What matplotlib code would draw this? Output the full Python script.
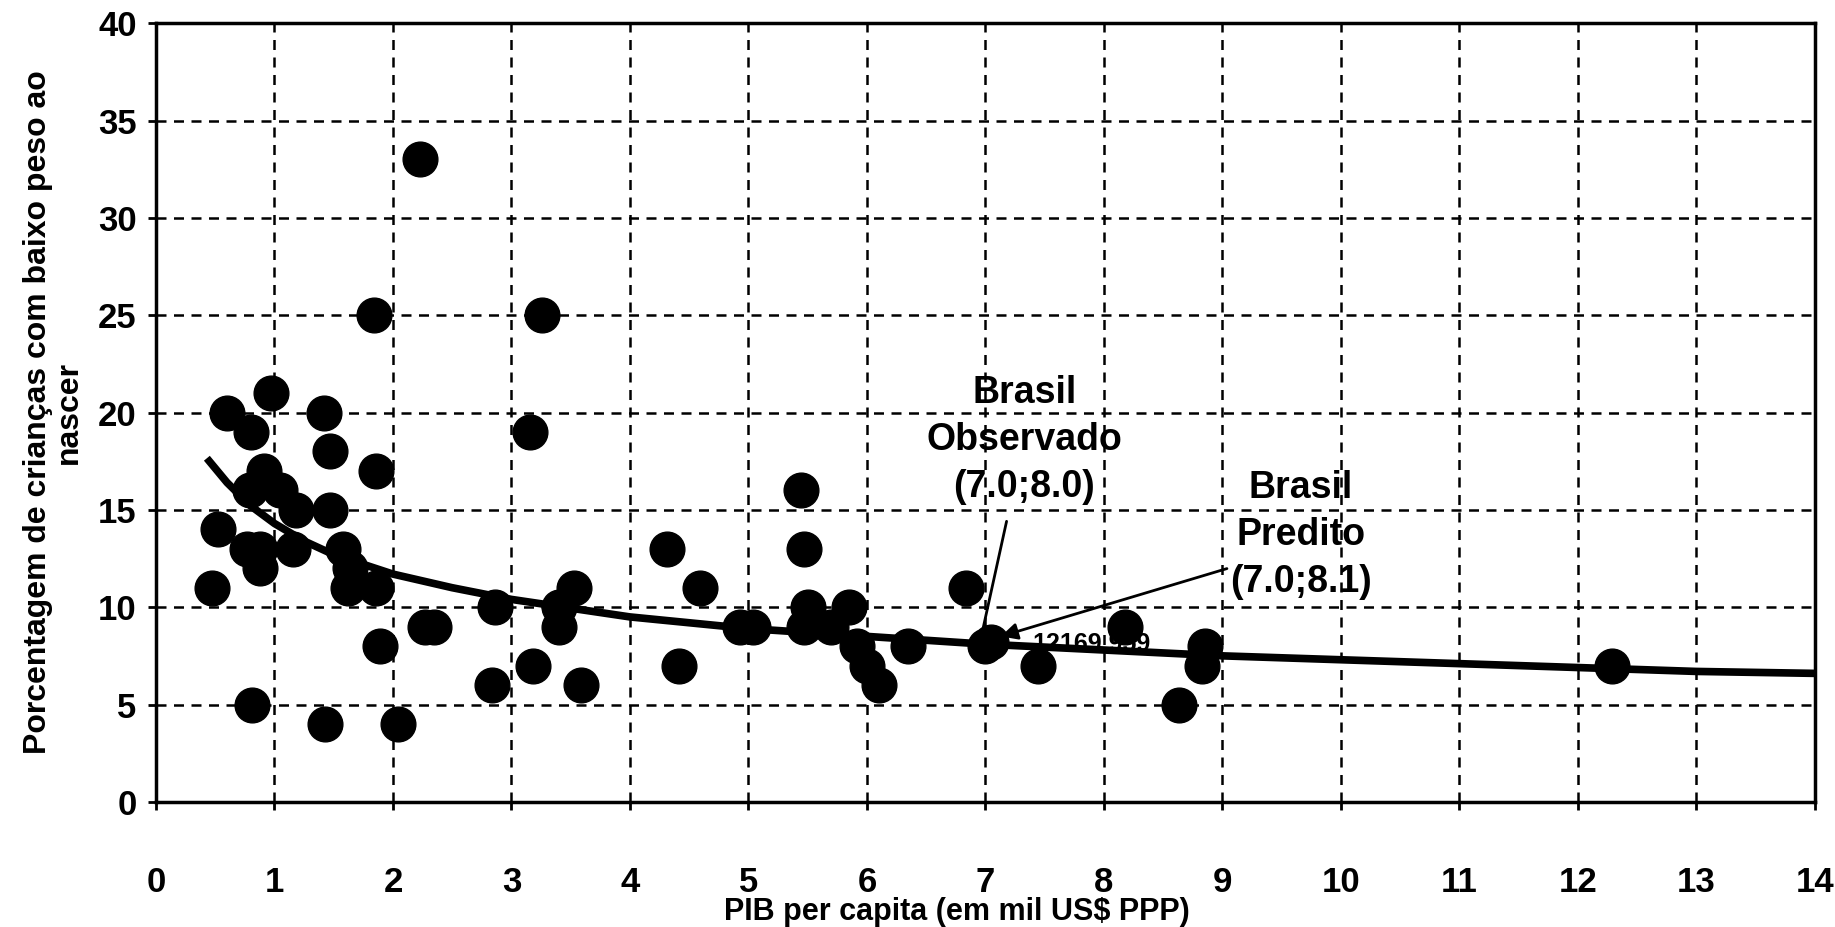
import numpy as np
import matplotlib.pyplot as plt

# PIB per capita (mil US$ PPP) e % de crianças com baixo peso ao nascer
pib = [0.47, 0.52, 0.60, 0.79, 0.80, 0.97, 0.91, 0.77, 0.88, 0.88, 1.05, 1.18, 1.16, 0.81,
       1.42, 1.47, 1.47, 1.58, 1.64, 1.62, 1.43, 1.84, 1.86, 1.86, 1.89, 2.04, 2.23, 2.27,
       2.35, 2.86, 2.84, 3.16, 3.18, 3.26, 3.40, 3.40, 3.53, 3.59, 4.31, 4.41, 4.59, 4.93,
       5.04, 5.44, 5.47, 5.50, 5.47, 5.70, 5.85, 5.92, 6.00, 6.10, 6.35, 6.84, 7.00, 7.05,
       7.44, 8.18, 8.63, 8.85, 8.83, 12.29]
baixo_peso = [11, 14, 20, 16, 19, 21, 17, 13, 13, 12, 16, 15, 13, 5,
              20, 18, 15, 13, 12, 11, 4, 25, 17, 11, 8, 4, 33, 9,
              9, 10, 6, 19, 7, 25, 10, 9, 11, 6, 13, 7, 11, 9,
              9, 16, 13, 10, 9, 9, 10, 8, 7, 6, 8, 11, 8.0, 8.2,
              7, 9, 5, 8, 7, 7]

# curva de tendência
curva_x = [0.45, 0.6, 0.8, 1.0, 1.25, 1.5, 2.0, 2.5, 3.0, 4.0, 5.0, 6.0, 7.0, 8.0, 9.0, 10.0, 11.0, 12.0, 13.0, 14.0]
curva_y = [17.5, 16.4, 15.2, 14.3, 13.4, 12.7, 11.7, 11.0, 10.4, 9.5, 8.9, 8.5, 8.1, 7.8, 7.5, 7.3, 7.1, 6.9, 6.7, 6.6]

fonte = 'Liberation Sans'
plt.rcParams['font.family'] = [fonte, 'DejaVu Sans']
plt.rcParams['font.weight'] = 'bold'

fig = plt.figure(figsize=(18.35, 9.27), dpi=100)
ax = fig.add_axes([0.085, 0.135, 0.904, 0.840])

ax.text(7.4, 8.1, '12169.959', fontsize=18, fontweight='bold', ha='left', va='center', zorder=1)
ax.plot(pib, baixo_peso, 'o', color='black', markersize=25, zorder=3)
ax.plot(curva_x, curva_y, '-', color='black', linewidth=5.5, zorder=4)

ax.set_xlim(0, 14)
ax.set_ylim(0, 40)
ax.set_xticks(range(0, 15))
ax.set_yticks(range(0, 41, 5))
ax.grid(True, color='black', linestyle=(0, (4, 3)), linewidth=1.8)
ax.set_axisbelow(True)
for s in ax.spines.values():
    s.set_linewidth(2.5)

ax.tick_params(axis='x', labelsize=25, pad=40, width=2, length=6)
ax.tick_params(axis='y', labelsize=25, pad=8, width=2, length=6)
for lab in ax.get_xticklabels() + ax.get_yticklabels():
    lab.set_fontweight('bold')

ax.set_xlabel('PIB per capita (em mil US$ PPP)', fontsize=22, fontweight='bold', labelpad=0)
ax.xaxis.set_label_coords(0.483, -0.122)
ax.set_ylabel('Porcentagem de crianças com baixo peso ao\nnascer', fontsize=23,
              fontweight='bold', labelpad=10, linespacing=1.05)

# anotações do Brasil
ax.annotate('Brasil\nObservado\n(7.0;8.0)', xy=(6.98, 8.9), xytext=(7.33, 18.6),
            fontsize=27, fontweight='bold', ha='center', va='center', linespacing=1.4,
            arrowprops=dict(arrowstyle='-', color='black', lw=2, shrinkA=10, shrinkB=0))
ax.annotate('Brasil\nPredito\n(7.0;8.1)', xy=(7.13, 8.5), xytext=(9.66, 13.7),
            fontsize=27, fontweight='bold', ha='center', va='center', linespacing=1.4,
            arrowprops=dict(arrowstyle='-|>', color='black', lw=2, mutation_scale=25,
                            shrinkA=0, shrinkB=0, relpos=(0.0, 0.25)))

fig.savefig('out.png', dpi=100)
